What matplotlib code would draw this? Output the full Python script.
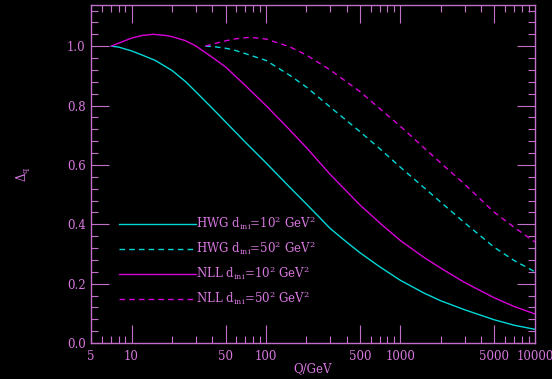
"""Delta_q versus Q for HWG and NLL with two starting scales."""

from matplotlib import pyplot as plt
from matplotlib.ticker import FixedLocator, NullFormatter
import numpy as np

# HWG, d_ini = 10^2 GeV^2
q_hwg10 = [7.07, 8, 10, 12, 15, 20, 25, 30, 40, 50, 70, 100, 150, 200, 300,
           400, 500, 700, 1000, 1500, 2000, 3000, 5000, 7000, 10000]
d_hwg10 = [1.0, 0.997, 0.984, 0.97, 0.952, 0.918, 0.882, 0.847, 0.79, 0.745,
           0.677, 0.607, 0.525, 0.468, 0.386, 0.339, 0.304, 0.257, 0.211,
           0.168, 0.142, 0.112, 0.078, 0.06, 0.046]

# NLL, d_ini = 10^2 GeV^2
q_nll10 = [7.07, 8, 10, 12, 14.5, 18, 20, 25, 30, 40, 50, 70, 100, 150, 200,
           300, 500, 700, 1000, 1500, 2000, 3000, 5000, 7000, 10000]
d_nll10 = [1.0, 1.010, 1.027, 1.036, 1.040, 1.036, 1.032, 1.019, 1.001,
           0.962, 0.93, 0.868, 0.80, 0.718, 0.658, 0.568, 0.465, 0.405, 0.345,
           0.288, 0.252, 0.204, 0.152, 0.123, 0.098]

# HWG, d_ini = 50^2 GeV^2
q_hwg50 = [35.36, 40, 50, 57, 70, 100, 150, 200, 300, 500, 700, 1000, 1500,
           2000, 3000, 5000, 7000, 10000]
d_hwg50 = [1.0, 0.999, 0.993, 0.988, 0.975, 0.952, 0.902, 0.862, 0.795,
           0.712, 0.655, 0.592, 0.523, 0.474, 0.405, 0.322, 0.278, 0.240]

# NLL, d_ini = 50^2 GeV^2
q_nll50 = [35.36, 40, 50, 60, 76, 100, 150, 200, 300, 500, 700, 1000, 1500,
           2000, 3000, 5000, 7000, 10000]
d_nll50 = [1.0, 1.007, 1.018, 1.025, 1.030, 1.024, 0.998, 0.97, 0.92, 0.847,
           0.79, 0.73, 0.657, 0.606, 0.535, 0.44, 0.39, 0.34]

labels = [r"HWG d$_{\rm ini}$=10$^2$ GeV$^2$",
          r"HWG d$_{\rm ini}$=50$^2$ GeV$^2$",
          r"NLL d$_{\rm ini}$=10$^2$ GeV$^2$",
          r"NLL d$_{\rm ini}$=50$^2$ GeV$^2$"]

x_major = [10, 50, 100, 500, 1000, 5000]
x_labels = [5, 10, 50, 100, 500, 1000, 5000, 10000]

CYAN = "#00d8d8"
MAGENTA = "#d800d8"
TEXT = "#d878e0"
AXIS = "#c070c8"
FS = 8.5

plt.rcParams["font.family"] = "DejaVu Serif"
plt.rcParams["mathtext.fontset"] = "dejavuserif"

fig = plt.figure(figsize=(5.52, 3.79), dpi=100, facecolor="black")
ax = fig.add_axes([0.165, 0.095, 0.804, 0.8905], facecolor="black")

ax.plot(q_hwg10, d_hwg10, color=CYAN, lw=1.0, label=labels[0])
ax.plot(q_hwg50, d_hwg50, color=CYAN, lw=1.0, ls=(0, (4, 3)), label=labels[1])
ax.plot(q_nll10, d_nll10, color=MAGENTA, lw=1.0, label=labels[2])
ax.plot(q_nll50, d_nll50, color=MAGENTA, lw=1.0, ls=(0, (4, 3)), label=labels[3])

ax.set_xscale("log")
ax.set_xlim(5, 10000)
ax.set_ylim(0, 1.137)

ax.xaxis.set_major_locator(FixedLocator(x_major))
ax.xaxis.set_minor_locator(FixedLocator(
    [m * 10 ** e for e in range(0, 5) for m in range(2, 10)
     if 5 <= m * 10 ** e <= 10000 and m * 10 ** e not in x_major]))
ax.xaxis.set_major_formatter(NullFormatter())
ax.xaxis.set_minor_formatter(NullFormatter())
for q in x_labels:
    ax.text(q, -0.022, str(q), transform=ax.get_xaxis_transform(),
            ha="center", va="top", color=TEXT, fontsize=FS)

ax.set_yticks(np.arange(0, 1.01, 0.2))
ax.set_yticks(np.arange(0, 1.14, 0.04), minor=True)
ax.set_yticklabels(["%.1f" % v for v in np.arange(0, 1.01, 0.2)])

ax.tick_params(which="both", direction="in", top=True, right=True,
               color=AXIS, labelcolor=TEXT, labelsize=FS, width=0.8)
ax.tick_params(which="major", length=13, pad=4)
ax.tick_params(which="minor", length=5)
for side in ax.spines.values():
    side.set_color(AXIS)
    side.set_linewidth(1.0)

ax.set_xlabel("Q/GeV", color=TEXT, fontsize=FS, labelpad=10)
ax.set_ylabel(r"$\Delta_{\rm q}$", color=TEXT, fontsize=FS, labelpad=24)

leg = ax.legend(loc="upper left", bbox_to_anchor=(0.053, 0.396),
                frameon=False, fontsize=FS, handlelength=6.5,
                handletextpad=0.0, labelspacing=0.59, borderaxespad=0)
for txt in leg.get_texts():
    txt.set_color(TEXT)

fig.savefig("out.png", dpi=100, facecolor="black")
